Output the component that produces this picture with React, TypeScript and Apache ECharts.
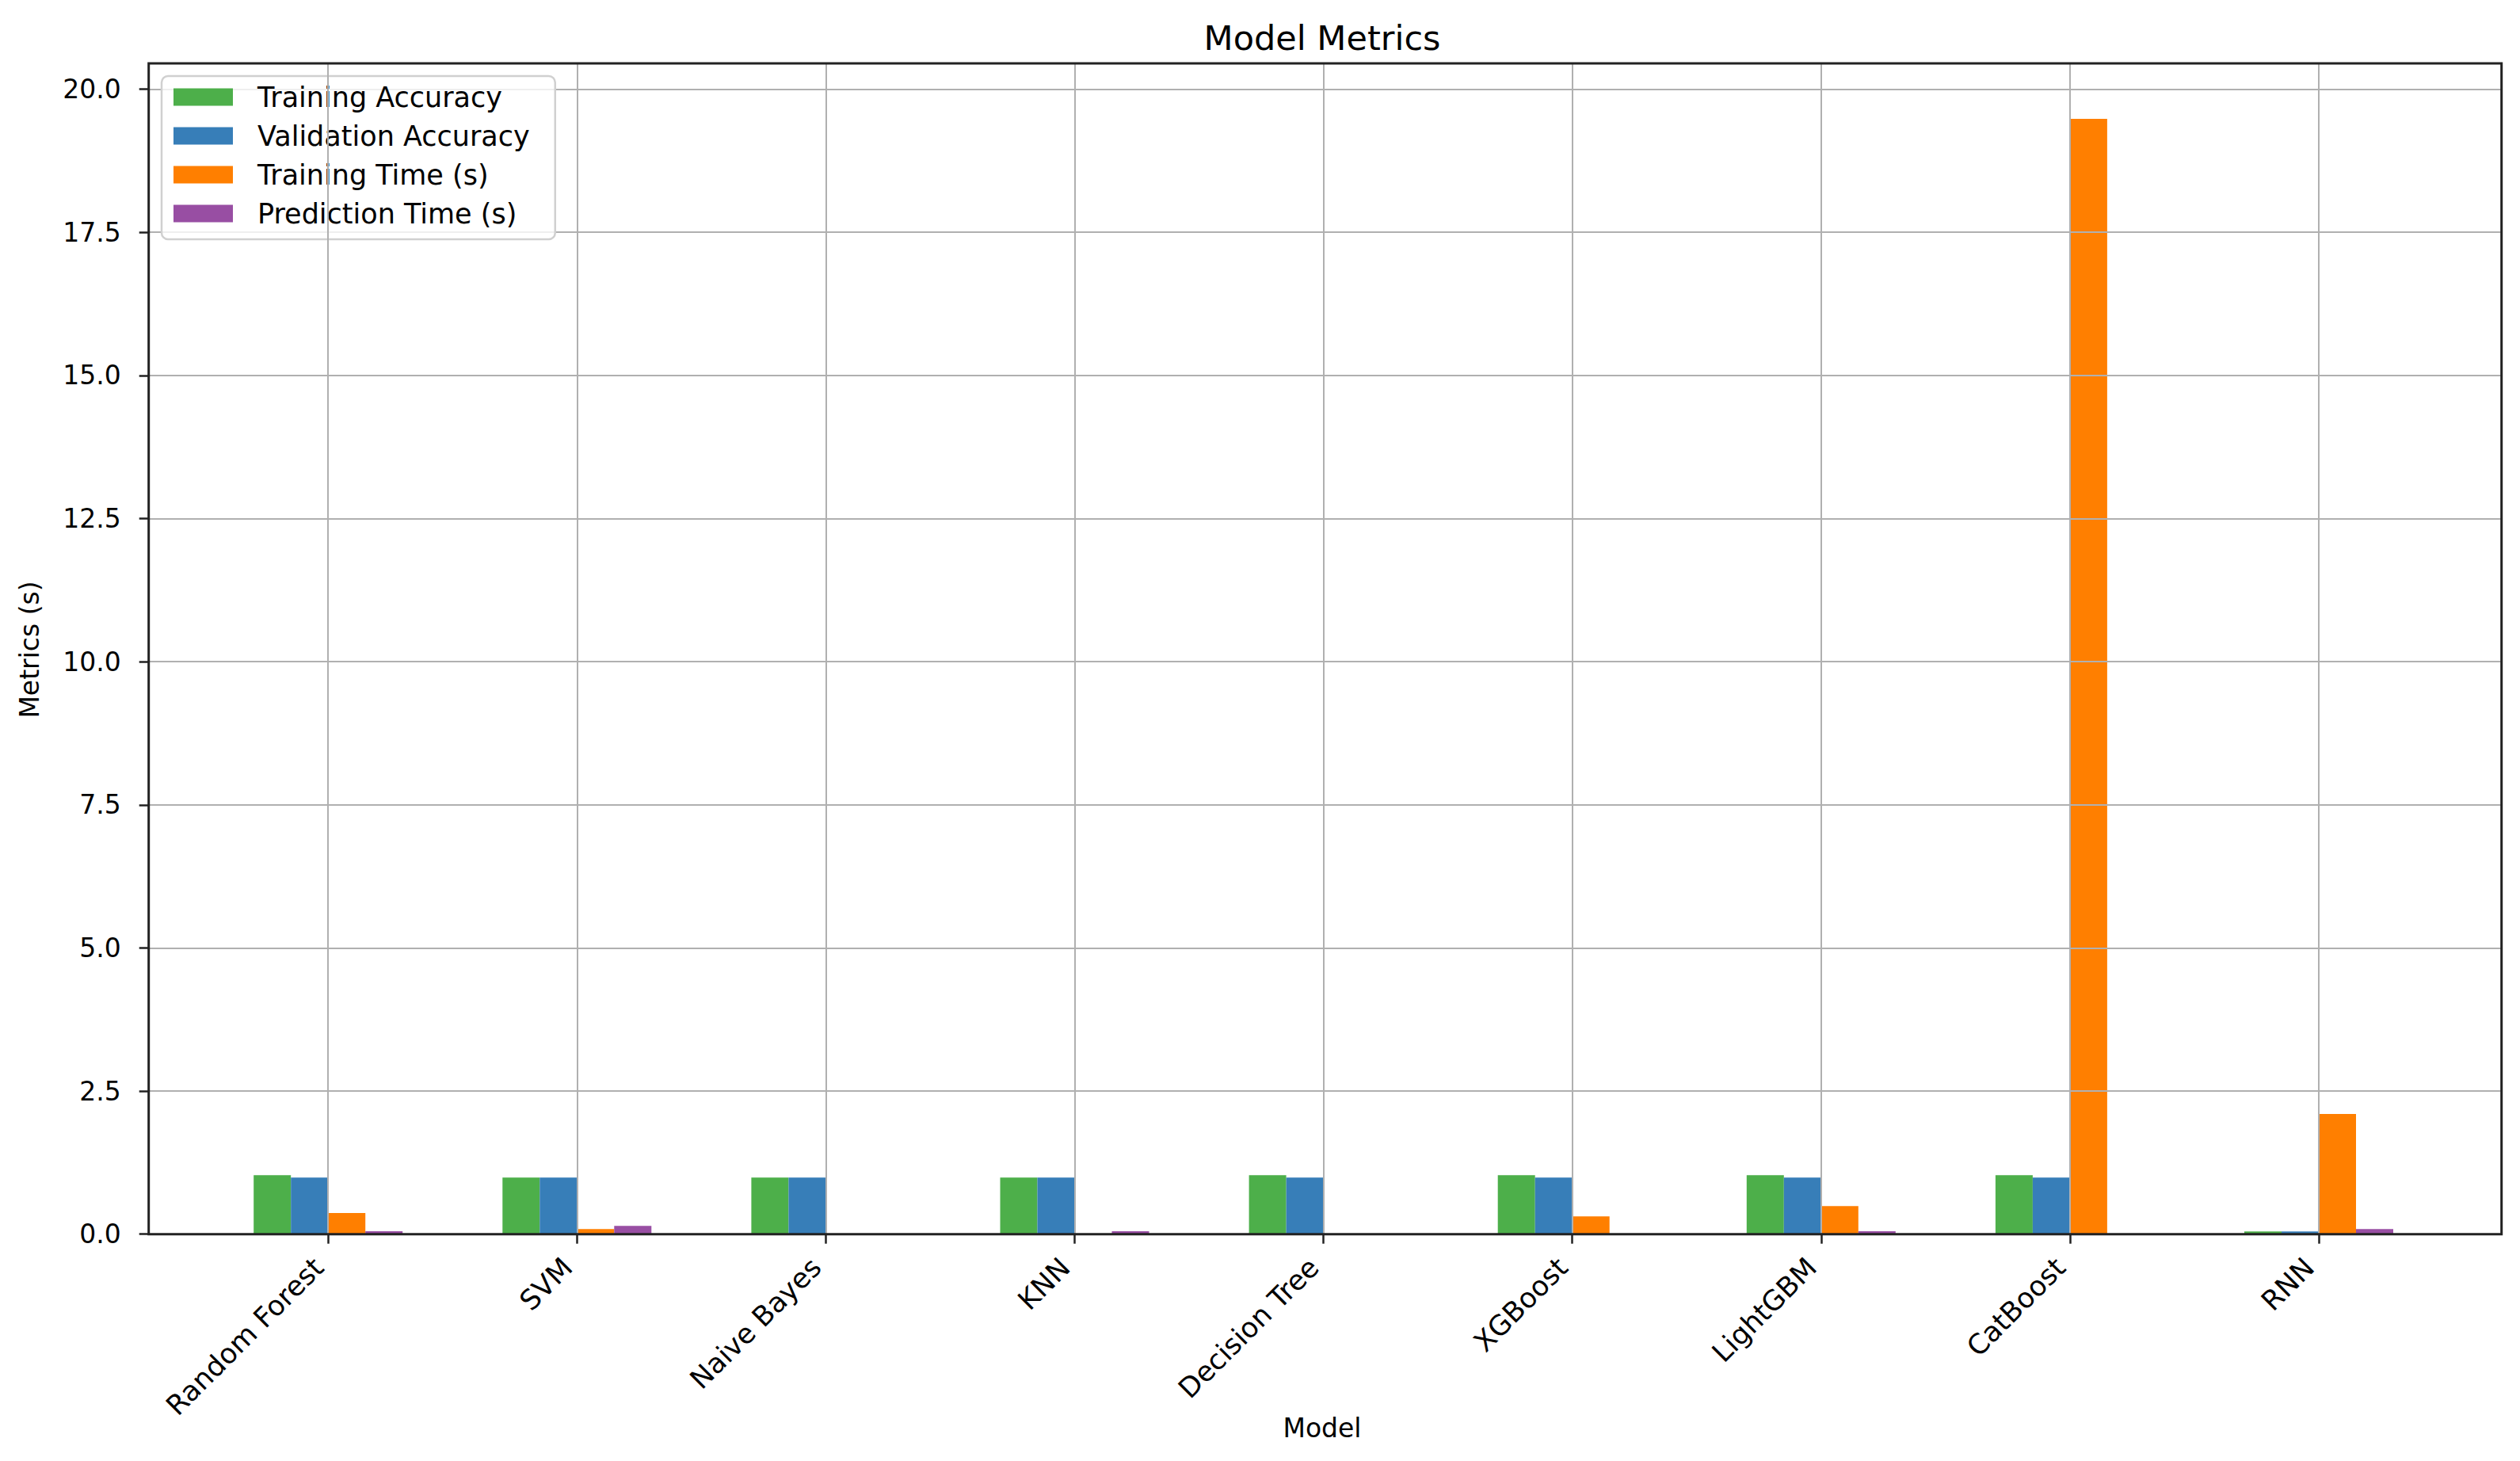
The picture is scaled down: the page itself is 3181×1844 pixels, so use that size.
import React, { useEffect, useRef } from "react";
import * as echarts from "echarts";

const categories = ["Random Forest", "SVM", "Naive Bayes", "KNN", "Decision Tree", "XGBoost", "LightGBM", "CatBoost", "RNN"];
const trainingAccuracy = [1.03, 0.99, 0.99, 0.99, 1.03, 1.03, 1.03, 1.03, 0.047];
const validationAccuracy = [0.99, 0.99, 0.99, 0.99, 0.99, 0.99, 0.99, 0.99, 0.047];
const trainingTime = [0.37, 0.09, 0.003, 0.002, 0.01, 0.31, 0.49, 19.48, 2.1];
const predictionTime = [0.05, 0.144, 0.003, 0.05, 0.002, 0.004, 0.05, 0.01, 0.09];
const yTicks = [0, 2.5, 5, 7.5, 10, 12.5, 15, 17.5, 20];
const seriesNames = ["Training Accuracy", "Validation Accuracy", "Training Time (s)", "Prediction Time (s)"];
const colors = ["#4daf4a", "#377eb8", "#ff7f00", "#984ea3"];

const W = 3181;
const H = 1844;
const FONT = "DejaVu Sans";
// frame
const FL = 187.7, FR = 3157.7, FT = 80, FB = 1557.7;
// category band layout
const BAND = 314.1;
const CL = 414.2 - BAND / 2;
const CR = CL + BAND * categories.length;

export default function App() {
  const ref = useRef<HTMLDivElement>(null);
  useEffect(() => {
    if (!ref.current) return;
    const chart = echarts.init(ref.current, null, { renderer: "svg" });
    const values = [trainingAccuracy, validationAccuracy, trainingTime, predictionTime];
    const option: any = {
      animation: false,
      backgroundColor: "#ffffff",
      textStyle: { fontFamily: FONT },
      grid: [
        { left: FL, right: W - FR, top: FT, bottom: H - FB, show: false },
        { left: CL, right: W - CR, top: FT, bottom: H - FB, show: false },
      ],
      xAxis: [
        { gridIndex: 0, type: "value", min: 0, max: 1, show: false },
        {
          gridIndex: 1,
          type: "category",
          data: categories,
          z: 3,
          axisLine: { show: false },
          axisTick: { show: true, alignWithLabel: true, length: 12, lineStyle: { color: "#222", width: 2.5 } },
          axisLabel: { interval: 0, rotate: 45, fontSize: 35, fontFamily: FONT, color: "#000", margin: 24, padding: [0, 17, 0, 0] },
          splitLine: { show: false },
        },
      ],
      yAxis: [
        {
          gridIndex: 0,
          type: "value",
          min: 0,
          max: 20.45,
          interval: 2.5,
          z: 3,
          axisLine: { show: false },
          axisTick: { show: true, length: 12, lineStyle: { color: "#222", width: 2.5 }, customValues: yTicks },
          axisLabel: {
            customValues: yTicks,
            fontSize: 33,
            fontFamily: FONT,
            color: "#000",
            margin: 35,
            formatter: (v: number) => (Math.abs(v / 2.5 - Math.round(v / 2.5)) < 1e-6 ? v.toFixed(1) : ""),
          },
          splitLine: { show: true, lineStyle: { color: "#b0b0b0", width: 2 } },
        },
        { gridIndex: 1, type: "value", min: 0, max: 20.45, show: false, splitLine: { show: false } },
      ],
      legend: {
        orient: "vertical",
        left: 204,
        top: 96,
        data: seriesNames,
        icon: "rect",
        itemWidth: 75,
        itemHeight: 22,
        itemGap: 14,
        padding: [9, 32, 15, 15],
        backgroundColor: "rgba(255,255,255,0.8)",
        borderColor: "#d0d0d0",
        borderWidth: 2.5,
        borderRadius: 8,
        textStyle: { fontSize: 35, fontFamily: FONT, color: "#000", padding: [0, 0, 0, 26] },
      },
      graphic: [
        {
          type: "rect",
          z: 10,
          silent: true,
          shape: { x: FL, y: FT, width: FR - FL, height: FB - FT },
          style: { fill: "none", stroke: "#222", lineWidth: 3 },
        },
        {
          type: "text",
          x: 1669,
          y: 47.5,
          style: { text: "Model Metrics", font: `43px "${FONT}"`, fill: "#000", textAlign: "center", textVerticalAlign: "middle" },
        },
        {
          type: "text",
          x: 1669,
          y: 1802,
          style: { text: "Model", font: `33px "${FONT}"`, fill: "#000", textAlign: "center", textVerticalAlign: "middle" },
        },
        {
          type: "text",
          x: 37,
          y: 820,
          rotation: Math.PI / 2,
          style: { text: "Metrics (s)", font: `33px "${FONT}"`, fill: "#000", textAlign: "center", textVerticalAlign: "middle" },
        },
      ],
      series: [
        ...seriesNames.map((name, i) => ({
          name,
          type: "bar",
          xAxisIndex: 1,
          yAxisIndex: 1,
          data: values[i],
          barWidth: 47,
          barGap: "0%",
          z: 2,
          itemStyle: { color: colors[i] },
          silent: true,
        })),
        {
          type: "line",
          xAxisIndex: 1,
          yAxisIndex: 1,
          data: [],
          z: 3,
          silent: true,
          markLine: {
            silent: true,
            symbol: ["none", "none"],
            label: { show: false },
            lineStyle: { color: "#b0b0b0", width: 2, type: "solid" },
            data: categories.map((c) => ({ xAxis: c })),
          },
        },
        { type: "line", xAxisIndex: 0, yAxisIndex: 0, data: [] },
      ],
    };
    chart.setOption(option);
    return () => chart.dispose();
  }, []);
  return <div ref={ref} style={{ position: "absolute", left: 0, top: 0, width: W, height: H }} />;
}
